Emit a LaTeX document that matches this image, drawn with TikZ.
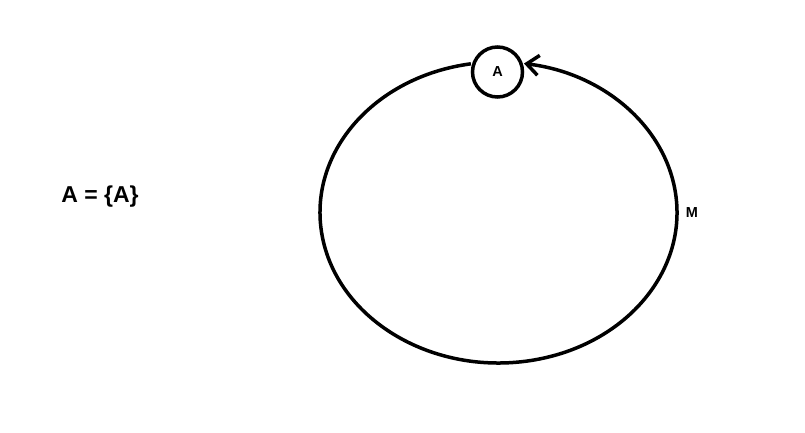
\documentclass[tikz,border=0pt]{standalone}
\usepackage{fontspec}
\setmainfont{Liberation Sans}
\usetikzlibrary{arrows.meta,calc}
\begin{document}
\begin{tikzpicture}[x=1pt,y=1pt,
  line/.style={line width=3.5pt},
  ptnode/.style={circle,draw,line width=3.5pt,minimum size=50pt,inner sep=0pt,font=\bfseries\fontsize{14.5}{14.5}\selectfont},
  lbl/.style={font=\bfseries\fontsize{14.5}{14.5}\selectfont,inner sep=0pt},
  settext/.style={font=\bfseries\fontsize{23}{23}\selectfont,inner sep=0pt}]
\useasboundingbox (0,0) rectangle (805,432);
\coordinate (C) at (498.5,219.5);
\node[ptnode] (A) at (497.5,360) {A};
\draw[line,-{Straight Barb[length=12pt,width=20pt]}]
  ($(C)+(98.9:178.5 and 150.5)$) arc[start angle=98.9,end angle=441.8,x radius=178.5,y radius=150.5];
\node[lbl] (M) at (692,219) {M};
\node[settext] (S) at (100,235) {A = \{A\}};
\end{tikzpicture}
\end{document}
